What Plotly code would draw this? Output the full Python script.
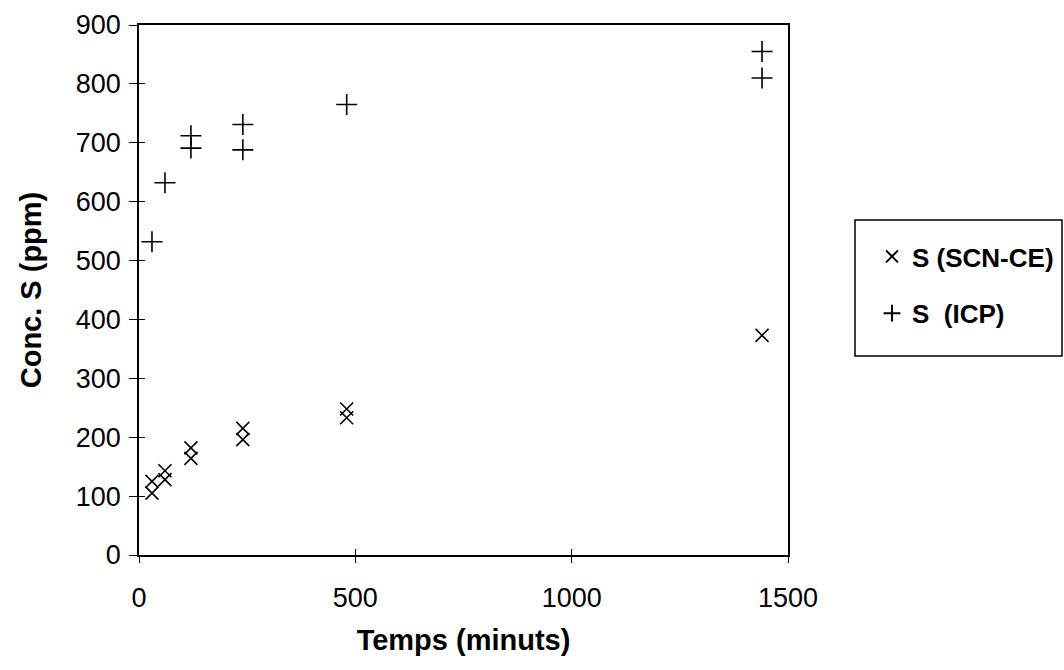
import plotly.graph_objects as go

# Data
icp_t = [30, 60, 120, 120, 240, 240, 480, 1440, 1440]
icp_s = [532, 632, 712, 691, 731, 688, 765, 855, 810]
scn_t = [30, 30, 60, 60, 120, 120, 240, 240, 480, 480, 1440]
scn_s = [125, 105, 143, 128, 182, 164, 215, 196, 248, 233, 373]

x_ticks = [0, 500, 1000, 1500]
y_ticks = [0, 100, 200, 300, 400, 500, 600, 700, 800, 900]

FONT = "Liberation Sans, Arial, sans-serif"

ML, MR, MT, MB = 139, 276, 25, 115
W, H = 1064, 670
PW, PH = W - ML - MR, H - MT - MB


def px_x(p):
    return (p - ML) / PW


def px_y(p):
    return (H - MB - p) / PH


fig = go.Figure()
fig.add_trace(go.Scatter(
    x=scn_t, y=scn_s, mode="markers", name="<b>S (SCN-CE)</b>", legendgroup="a",
    marker=dict(symbol="x-thin-open", size=13, color="black",
                line=dict(color="black", width=1.6)),
))
fig.add_trace(go.Scatter(
    x=icp_t, y=icp_s, mode="markers", name="<b>S  (ICP)</b>", legendgroup="b",
    marker=dict(symbol="cross-thin-open", size=15, color="black",
                line=dict(color="black", width=1.6)),
))

axis_common = dict(showgrid=False, zeroline=False, showline=True,
                   linecolor="black", linewidth=1.5)

fig.update_layout(
    width=W, height=H,
    margin=dict(l=ML, r=MR, t=MT, b=MB, autoexpand=False),
    paper_bgcolor="white", plot_bgcolor="white",
    font=dict(family=FONT, color="black"),
    xaxis=dict(
        **axis_common, range=[0, 1500], tickvals=x_ticks,
        ticks="outside", ticklen=6, tickwidth=1.2, tickcolor="black",
        mirror=True, ticklabelstandoff=12,
        tickfont=dict(size=27, family=FONT),
        title=dict(text="<b>Temps (minuts)</b>", font=dict(size=29, family=FONT), standoff=18),
    ),
    yaxis=dict(
        **axis_common, range=[0, 900], tickvals=y_ticks,
        ticks="outside", ticklen=8, tickwidth=1.2, tickcolor="black",
        mirror=True, ticklabelstandoff=3,
        tickfont=dict(size=27, family=FONT),
        title=dict(text="<b>Conc. S (ppm)</b>", font=dict(size=29, family=FONT), standoff=26),
    ),
    xaxis2=dict(overlaying="x", matches="x", range=[0, 1500], tickvals=x_ticks,
                ticks="inside", ticklen=6, tickwidth=1.2, tickcolor="black",
                showticklabels=False, showgrid=False, zeroline=False, side="bottom"),
    yaxis2=dict(overlaying="y", matches="y", range=[0, 900], tickvals=y_ticks,
                ticks="inside", ticklen=6, tickwidth=1.2, tickcolor="black",
                showticklabels=False, showgrid=False, zeroline=False, side="left"),
    showlegend=True,
    legend=dict(
        x=px_x(872), xanchor="left",
        y=px_y(233), yanchor="top",
        bgcolor="rgba(0,0,0,0)", borderwidth=0,
        font=dict(size=26, family=FONT, color="black"),
        traceorder="grouped", tracegroupgap=20,
        itemsizing="constant",
    ),
    shapes=[dict(type="rect", xref="paper", yref="paper",
                 x0=px_x(855), x1=px_x(1062), y0=px_y(356), y1=px_y(220),
                 line=dict(color="black", width=1.5), fillcolor="rgba(0,0,0,0)",
                 layer="below")],
)
# invisible trace to activate the secondary axes for crossing tick marks
fig.add_trace(go.Scatter(x=[None], y=[None], xaxis="x2", yaxis="y2",
                         showlegend=False, hoverinfo="skip"))

fig.write_html("out.html")
